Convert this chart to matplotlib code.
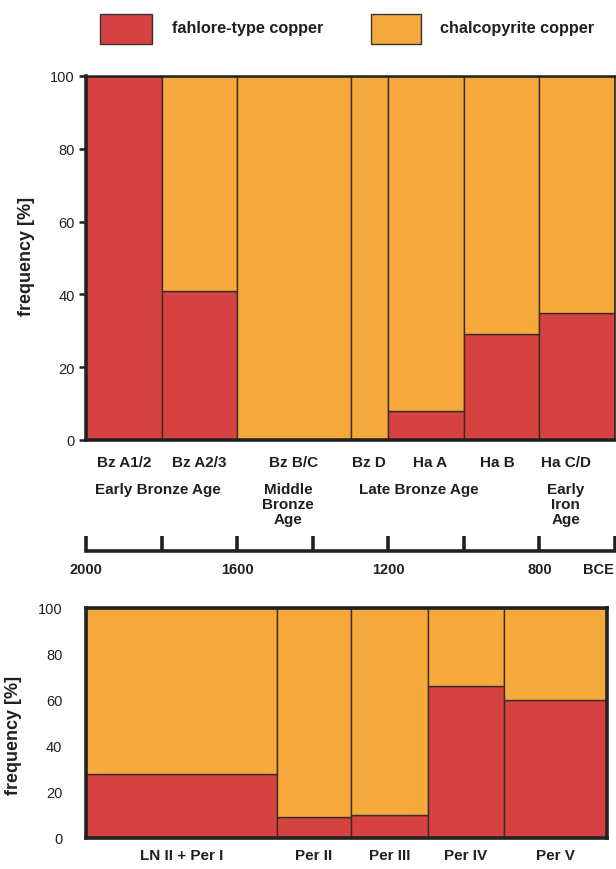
import matplotlib
matplotlib.use("Agg")
import matplotlib.pyplot as plt
from matplotlib.patches import Rectangle

plt.rcParams['font.family'] = ['Liberation Sans', 'DejaVu Sans']

# ---------------- data ----------------
# top panel: periods with boundaries in years BCE
top_periods = ["Bz A1/2", "Bz A2/3", "Bz B/C", "Bz D", "Ha A", "Ha B", "Ha C/D"]
top_start = [2000, 1800, 1600, 1300, 1200, 1000, 800]
top_end = [1800, 1600, 1300, 1200, 1000, 800, 600]
top_fahlore = [100, 41, 0, 0, 8, 29, 35]
top_label_x = [1900, 1700, 1450, 1250, 1090, 910, 730]
age_labels = ["Early Bronze Age", "Middle\nBronze\nAge", "Late Bronze Age", "Early\nIron\nAge"]
age_label_x = [1810, 1465, 1120, 730]
year_ticks = [2000, 1800, 1600, 1400, 1200, 1000, 800, 600]
year_ticklabels = ["2000", "", "1600", "", "1200", "", "800", ""]

# bottom panel: periods with relative widths
bot_periods = ["LN II + Per I", "Per II", "Per III", "Per IV", "Per V"]
bot_width = [191, 74, 77, 76, 103]
bot_fahlore = [28, 9, 10, 66, 60]

legend_labels = ["fahlore-type copper", "chalcopyrite copper"]

RED = "#D64242"
ORANGE = "#F5A93C"
EDGE = "#3a2c22"
TXT = "#231f20"

W, H = 616, 870
fig = plt.figure(figsize=(W / 100, H / 100), dpi=100)


def px_axes(x0, y0, x1, y1):
    return fig.add_axes([x0 / W, 1 - y1 / H, (x1 - x0) / W, (y1 - y0) / H])


# ---------------- legend ----------------
lx = [(100, 152, 172), (371, 421, 440)]
for (a, b, t), lab, col in zip(lx, legend_labels, [RED, ORANGE]):
    fig.patches.append(Rectangle((a / W, 1 - 45 / H), (b - a) / W, 30 / H,
                                 transform=fig.transFigure, facecolor=col,
                                 edgecolor="#333333", lw=1.0))
    fig.text(t / W, 1 - 29 / H, lab, fontsize=11.7, fontweight="bold",
             color=TXT, va="center", ha="left")

# ---------------- top panel ----------------
ax = px_axes(86, 77, 615, 441)
for s, e, f in zip(top_start, top_end, top_fahlore):
    ax.bar(s, f, width=e - s, align="edge", color=RED, edgecolor=EDGE, lw=1.0)
    ax.bar(s, 100 - f, bottom=f, width=e - s, align="edge", color=ORANGE,
           edgecolor=EDGE, lw=1.0)
ax.set_xlim(2000, 600)
ax.set_ylim(0, 100)
ax.set_xticks([])
ax.set_yticks([0, 20, 40, 60, 80, 100])
ax.tick_params(axis="y", direction="out", length=5, width=1.8, labelsize=10.5,
               colors=TXT, pad=3)
ax.spines["left"].set_linewidth(2.6)
ax.spines["bottom"].set_linewidth(2.6)
ax.spines["top"].set_linewidth(1.8)
ax.spines["right"].set_linewidth(1.2)
for sp in ax.spines.values():
    sp.set_color("#222222")
ax.set_ylabel("frequency [%]", fontsize=13, fontweight="bold", color=TXT)
ax.yaxis.set_label_coords((35 - 86) / 529, (441 - 256.5) / 364)

for lab, xv in zip(top_periods, top_label_x):
    ax.text(xv, -6, lab, ha="center", va="center", fontsize=11,
            fontweight="bold", color=TXT, clip_on=False)
for lab, xv in zip(age_labels, age_label_x):
    ax.text(xv, -11.6, lab, ha="center", va="top", fontsize=11,
            fontweight="bold", color=TXT, linespacing=1.1,
            clip_on=False)

# ---------------- timeline ----------------
tl = px_axes(86, 500, 615, 552)
tl.set_xlim(2000, 600)
tl.set_ylim(0, 1)
tl.patch.set_visible(False)
for k in ["top", "left", "right"]:
    tl.spines[k].set_visible(False)
tl.spines["bottom"].set_linewidth(2.6)
tl.spines["bottom"].set_color("#222222")
tl.set_yticks([])
tl.set_xticks(year_ticks)
tl.set_xticklabels(year_ticklabels)
tl.tick_params(axis="x", direction="in", length=11, width=2.6, labelsize=10.5,
               colors=TXT, pad=8)
for t in tl.get_xticklabels():
    t.set_fontweight("bold")
tl.text(645, -0.35, "BCE", ha="center", va="center", fontsize=10.5,
        fontweight="bold", color=TXT, transform=tl.get_xaxis_transform())

# ---------------- bottom panel ----------------
bx = px_axes(86, 609, 607, 839)
left = 0
for wdt, f, lab in zip(bot_width, bot_fahlore, bot_periods):
    bx.bar(left, f, width=wdt, align="edge", color=RED, edgecolor=EDGE, lw=1.0)
    bx.bar(left, 100 - f, bottom=f, width=wdt, align="edge", color=ORANGE,
           edgecolor=EDGE, lw=1.0)
    bx.text(left + wdt / 2, -7.5, lab, ha="center", va="center", fontsize=11,
            fontweight="bold", color=TXT, clip_on=False)
    left += wdt
bx.set_xlim(0, sum(bot_width))
bx.set_ylim(0, 100)
bx.set_xticks([])
bx.set_yticks([0, 20, 40, 60, 80, 100])
bx.tick_params(axis="y", length=0, labelsize=10.5, colors=TXT, pad=17)
for sp in bx.spines.values():
    sp.set_linewidth(2.6)
    sp.set_color("#222222")
bx.set_ylabel("frequency [%]", fontsize=13, fontweight="bold", color=TXT)
bx.yaxis.set_label_coords((22 - 86) / 521, (839 - 735) / 230)

fig.savefig("out.png", dpi=100)
